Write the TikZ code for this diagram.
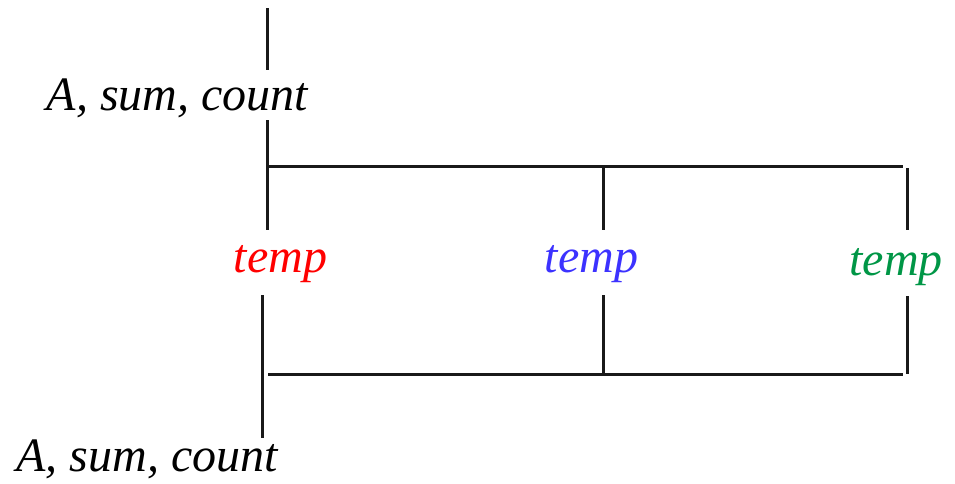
\documentclass[tikz,border=0pt]{standalone}
\usepackage{fontspec}
\setmainfont{Liberation Serif}[ItalicFont={Liberation Serif Italic}]
\definecolor{tred}{RGB}{255,0,0}
\definecolor{tblue}{RGB}{60,50,255}
\definecolor{tgreen}{RGB}{0,150,70}
\begin{document}
\begin{tikzpicture}[x=1pt,y=-1pt,
  wire/.style={line width=3pt,black!90},
  lbl/.style={font=\fontsize{48}{52}\selectfont\itshape,inner sep=0pt,anchor=base}]
\useasboundingbox (0,0) rectangle (955,483);
% labels
\node[lbl] (top) at (177.5,110) {A, sum, count};
\node[lbl] (bot) at (147,471) {A, sum, count};
\node[lbl,text=tred] (tr) at (280.5,272) {temp};
\node[lbl,text=tblue] (tb) at (591.5,272) {temp};
\node[lbl,text=tgreen] (tg) at (896,275) {temp};
% coordinates
\coordinate (in0) at (267,8);
\coordinate (in1) at (267,70);
\coordinate (a0) at (267,120);
\coordinate (a1) at (267,230);
\coordinate (h0) at (267,166);
\coordinate (h1) at (903,166);
\coordinate (b0) at (603,166);
\coordinate (b1) at (603,230);
\coordinate (g0) at (907,168);
\coordinate (g1) at (907,230);
\coordinate (r2) at (262.5,295);
\coordinate (r3) at (262.5,438);
\coordinate (b2) at (603,295);
\coordinate (b3) at (603,374);
\coordinate (g2) at (907,296);
\coordinate (g3) at (907,374);
\coordinate (k0) at (268,374);
\coordinate (k1) at (903,374);
% lines
\draw[wire] (in0) -- (in1);
\draw[wire] (a0) -- (a1);
\draw[wire] (h0) -- (h1);
\draw[wire] (b0) -- (b1);
\draw[wire] (g0) -- (g1);
\draw[wire] (r2) -- (r3);
\draw[wire] (b2) -- (b3);
\draw[wire] (g2) -- (g3);
\draw[wire] (k0) -- (k1);
\end{tikzpicture}
\end{document}
